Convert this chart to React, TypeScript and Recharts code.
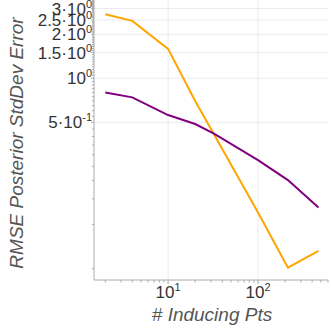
import React from 'react';
import { LineChart, Line, XAxis, YAxis, ReferenceLine, Label } from 'recharts';

// number of inducing points (x) and the two error curves
const inducingPts = [2, 4, 10, 20, 32, 100, 215, 470];
const orangeErr = [2.74, 2.47, 1.59, 0.7, 0.42, 0.121, 0.0507, 0.0662];
const purpleErr = [0.8, 0.741, 0.561, 0.487, 0.42, 0.276, 0.2015, 0.131];

const xMajor = [10, 100];
const xMajorLabels = [['10', '1'], ['10', '2']];
const xMinor = [2, 3, 4, 5, 6, 7, 8, 9, 20, 30, 40, 50, 60, 70, 80, 90, 200, 300, 400, 500, 600];

const yMajor = [0.5, 1, 1.5, 2, 2.5, 3];
const yMajorLabels = [
  ['5·10', '-1'],
  ['10', '0'],
  ['1.5·10', '0'],
  ['2·10', '0'],
  ['2.5·10', '0'],
  ['3·10', '0'],
];
const yMinor: number[] = [];
for (let i = 1; i <= 68; i++) yMinor.push(Math.round(i * 5) / 100);

const data = inducingPts.map((n, i) => ({ n, orange: orangeErr[i], purple: purpleErr[i] }));

const FONT = '"Liberation Sans", Arial, sans-serif';
const AXIS = '#aaaaaa';
const GRID = '#ebebeb';

const XTick = (props: any) => {
  const { x, y, payload } = props;
  const idx = xMajor.indexOf(payload.value);
  if (idx < 0) {
    return <line x1={x} x2={x} y1={y} y2={y + 2.5} stroke={AXIS} />;
  }
  const [base, exp] = xMajorLabels[idx];
  return (
    <g>
      <line x1={x} x2={x} y1={y} y2={y + 4} stroke={AXIS} />
      <text x={x} y={y + 18} textAnchor="middle" fontSize={17} fill="#333" fontFamily={FONT}>
        <tspan>{base}</tspan>
        <tspan dy={-7} fontSize={11}>{exp}</tspan>
      </text>
    </g>
  );
};

const YTick = (props: any) => {
  const { x, y, payload } = props;
  const v = Math.round(payload.value * 100) / 100;
  const idx = yMajor.indexOf(v);
  if (idx < 0) {
    return <line x1={x} x2={x - 2} y1={y} y2={y} stroke={AXIS} />;
  }
  const [base, exp] = yMajorLabels[idx];
  return (
    <g>
      <line x1={x} x2={x - 3} y1={y} y2={y} stroke={AXIS} />
      <text x={x - 2} y={y + 6} textAnchor="end" fontSize={17} fill="#333" fontFamily={FONT}>
        <tspan>{base}</tspan>
        <tspan dy={-7} fontSize={11}>{exp}</tspan>
      </text>
    </g>
  );
};

export default function App() {
  return (
    <div style={{ position: 'absolute', left: 0, top: 0 }}>
      <LineChart width={331} height={331} data={data} margin={{ top: 0, right: 3, left: 0, bottom: 0 }}>
        {xMajor.map(v => (
          <ReferenceLine key={'gx' + v} x={v} stroke={GRID} />
        ))}
        {yMajor.map(v => (
          <ReferenceLine key={'gy' + v} y={v} stroke={GRID} />
        ))}
        <XAxis
          dataKey="n"
          type="number"
          scale="log"
          domain={[1.5, 600]}
          allowDataOverflow
          ticks={[...xMinor, ...xMajor].sort((a, b) => a - b)}
          interval={0}
          tickSize={0}
          tickMargin={0}
          tickLine={false}
          tick={<XTick />}
          axisLine={{ stroke: AXIS }}
          height={51}
        >
          <Label
            content={() => (
              <text x={212} y={321} textAnchor="middle" fontSize={19} fontStyle="italic" fill="#555" fontFamily={FONT}>
                # Inducing Pts
              </text>
            )}
          />
        </XAxis>
        <YAxis
          type="number"
          scale="log"
          domain={[0.0418, 3.43]}
          allowDataOverflow
          ticks={yMinor}
          interval={0}
          tickSize={0}
          tickMargin={0}
          tickLine={false}
          tick={<YTick />}
          axisLine={{ stroke: AXIS }}
          width={94}
        >
          <Label
            content={() => (
              <text
                x={23}
                y={143}
                transform="rotate(-90 23 143)"
                textAnchor="middle"
                fontSize={19}
                fontStyle="italic"
                fill="#555"
                fontFamily={FONT}
              >
                RMSE Posterior StdDev Error
              </text>
            )}
          />
        </YAxis>
        <Line dataKey="orange" stroke="#ffa500" strokeWidth={2} dot={false} isAnimationActive={false} />
        <Line dataKey="purple" stroke="#800080" strokeWidth={2} dot={false} isAnimationActive={false} />
      </LineChart>
    </div>
  );
}
